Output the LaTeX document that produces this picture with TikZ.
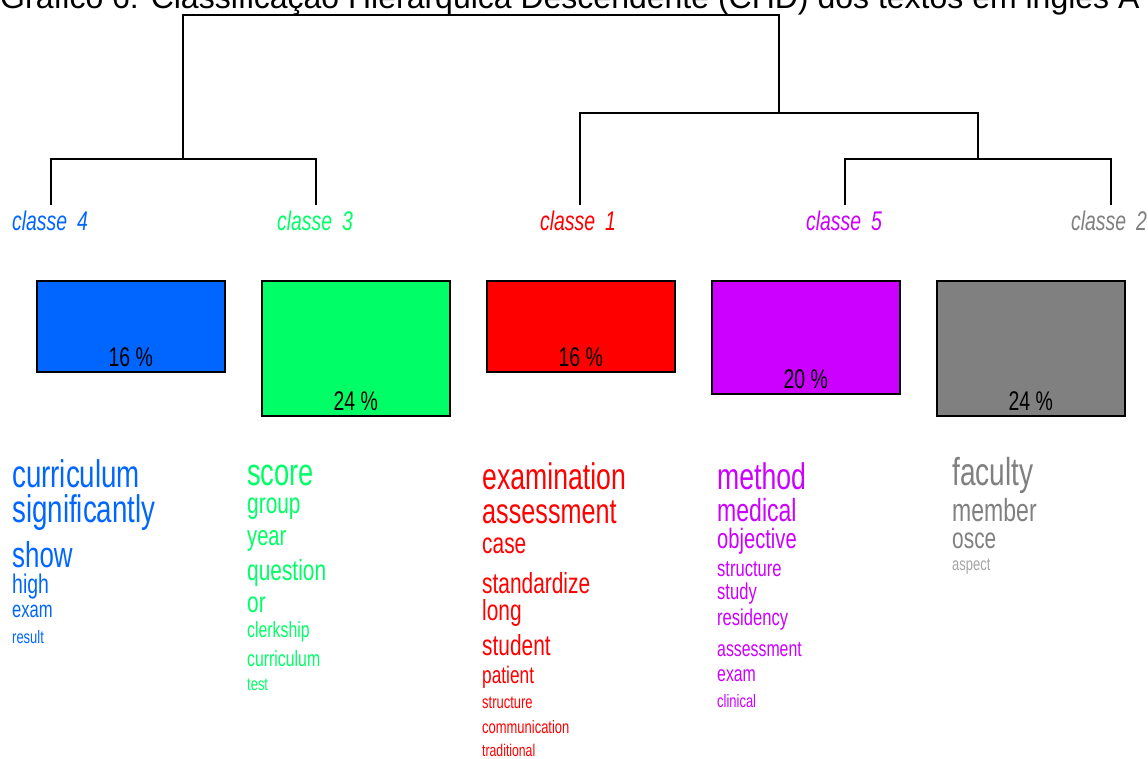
\documentclass[tikz,border=0pt]{standalone}
\usepackage{fontspec}
\setmainfont{Liberation Sans}
\newfontfamily\narrowsans[FakeStretch=0.72]{Liberation Sans}
\newcommand\myfs[1]{\fontsize{#1}{#1}\selectfont}
\definecolor{cblue}{RGB}{0,102,255}
\definecolor{cgreen}{RGB}{0,255,102}
\definecolor{cred}{RGB}{255,0,0}
\definecolor{cpurple}{RGB}{204,0,255}
\definecolor{cgray}{RGB}{128,128,128}
\tikzset{
  dend/.style={line width=1.6pt, black},
  classlbl/.style={anchor=base, inner sep=0, font=\narrowsans\itshape\myfs{27}},
  pctbox/.style={draw=black, line width=1.5pt, anchor=north west, inner sep=0, minimum width=188pt},
  pct/.style={anchor=base, inner sep=0, font=\narrowsans\myfs{27}},
  word/.style={anchor=base west, inner sep=0},
}
\begin{document}
\begin{tikzpicture}[x=1pt,y=-1pt]
\useasboundingbox (0,0) rectangle (1148,758);
% title (cut off at top)
\node[anchor=base west, inner sep=0, font=\myfs{32}] (title) at (0,8) {Gráfico 6: Classificação Hierárquica Descendente (CHD) dos textos em inglês A};

% leaves
\node[classlbl, text=cblue]   (l4) at (50,230)   {classe\, 4};
\node[classlbl, text=cgreen]  (l3) at (315,230)  {classe\, 3};
\node[classlbl, text=cred]    (l1) at (578,230)  {classe\, 1};
\node[classlbl, text=cpurple] (l5) at (844,230)  {classe\, 5};
\node[classlbl, text=cgray]   (l2) at (1109,230) {classe\, 2};

\coordinate (t4) at (51,205);
\coordinate (t3) at (316,205);
\coordinate (t1) at (580,205);
\coordinate (t5) at (845,205);
\coordinate (t2) at (1111,205);
\coordinate (a43) at (183,159);
\coordinate (a52) at (978,159);
\coordinate (a152) at (779,113);
\coordinate (root) at (481,15);

\draw[dend] (t4) |- (a43) -| (t3);
\draw[dend] (t5) |- (a52) -| (t2);
\draw[dend] (t1) |- (a152) -| (a52);
\draw[dend] (a43) |- (root) -| (a152);

% boxes
\node[pctbox, fill=cblue,   minimum height=91pt]  (b4) at (36,280)  {};
\node[pctbox, fill=cgreen,  minimum height=135pt] (b3) at (261,280) {};
\node[pctbox, fill=cred,    minimum height=91pt]  (b1) at (486,280) {};
\node[pctbox, fill=cpurple, minimum height=113pt] (b5) at (711,280) {};
\node[pctbox, fill=cgray,   minimum height=135pt] (b2) at (936,280) {};
\node[pct] (p4) at ([yshift=6pt]b4.south) {16 \%};
\node[pct] (p3) at ([yshift=6pt]b3.south) {24 \%};
\node[pct] (p1) at ([yshift=6pt]b1.south) {16 \%};
\node[pct] (p5) at ([yshift=6pt]b5.south) {20 \%};
\node[pct] (p2) at ([yshift=6pt]b2.south) {24 \%};

% classe 4 words
\begin{scope}[every node/.style={word, text=cblue}]
\node[font=\narrowsans\myfs{38.5}] (w4a) at (12,487) {curriculum};
\node[font=\narrowsans\myfs{38.5}] (w4b) at (12,522) {significantly};
\node[font=\narrowsans\myfs{36}] (w4c) at (12,567) {show};
\node[font=\narrowsans\myfs{27}] (w4d) at (12,593) {high};
\node[font=\narrowsans\myfs{23}] (w4e) at (12,617) {exam};
\node[font=\narrowsans\myfs{18}] (w4f) at (12,643) {result};
\end{scope}
% classe 3 words
\begin{scope}[every node/.style={word, text=cgreen}]
\node[font=\narrowsans\myfs{38}] (w3a) at (247,485) {score};
\node[font=\narrowsans\myfs{29}] (w3b) at (247,513) {group};
\node[font=\narrowsans\myfs{28}] (w3c) at (247,545) {year};
\node[font=\narrowsans\myfs{29}] (w3d) at (247,580) {question};
\node[font=\narrowsans\myfs{29}] (w3e) at (247,612) {or};
\node[font=\narrowsans\myfs{22}] (w3f) at (247,637) {clerkship};
\node[font=\narrowsans\myfs{22}] (w3g) at (247,666) {curriculum};
\node[font=\narrowsans\myfs{18}] (w3h) at (247,690) {test};
\end{scope}
% classe 1 words
\begin{scope}[every node/.style={word, text=cred}]
\node[font=\narrowsans\myfs{37}] (w1a) at (482,489) {examination};
\node[font=\narrowsans\myfs{35}] (w1b) at (482,523) {assessment};
\node[font=\narrowsans\myfs{29}] (w1c) at (482,553) {case};
\node[font=\narrowsans\myfs{29}] (w1d) at (482,593) {standardize};
\node[font=\narrowsans\myfs{29}] (w1e) at (482,620) {long};
\node[font=\narrowsans\myfs{29}] (w1f) at (482,655) {student};
\node[font=\narrowsans\myfs{24}] (w1g) at (482,683) {patient};
\node[font=\narrowsans\myfs{18}] (w1h) at (482,708) {structure};
\node[font=\narrowsans\myfs{18}] (w1i) at (482,733) {communication};
\node[font=\narrowsans\myfs{17}] (w1j) at (482,756) {traditional};
\end{scope}
% classe 5 words
\begin{scope}[every node/.style={word, text=cpurple}]
\node[font=\narrowsans\myfs{37}] (w5a) at (717,489) {method};
\node[font=\narrowsans\myfs{32}] (w5b) at (717,521) {medical};
\node[font=\narrowsans\myfs{28}] (w5c) at (717,548) {objective};
\node[font=\narrowsans\myfs{23}] (w5d) at (717,576) {structure};
\node[font=\narrowsans\myfs{23}] (w5e) at (717,599) {study};
\node[font=\narrowsans\myfs{23}] (w5f) at (717,625) {residency};
\node[font=\narrowsans\myfs{22}] (w5g) at (717,656) {assessment};
\node[font=\narrowsans\myfs{22}] (w5h) at (717,681) {exam};
\node[font=\narrowsans\myfs{18}] (w5i) at (717,707) {clinical};
\end{scope}
% classe 2 words
\begin{scope}[every node/.style={word, text=cgray}]
\node[font=\narrowsans\myfs{39}] (w2a) at (952,485) {faculty};
\node[font=\narrowsans\myfs{32}] (w2b) at (952,521) {member};
\node[font=\narrowsans\myfs{29}] (w2c) at (952,548) {osce};
\node[font=\narrowsans\myfs{18}, text=cgray!70] (w2d) at (952,570) {aspect};
\end{scope}
\end{tikzpicture}
\end{document}
